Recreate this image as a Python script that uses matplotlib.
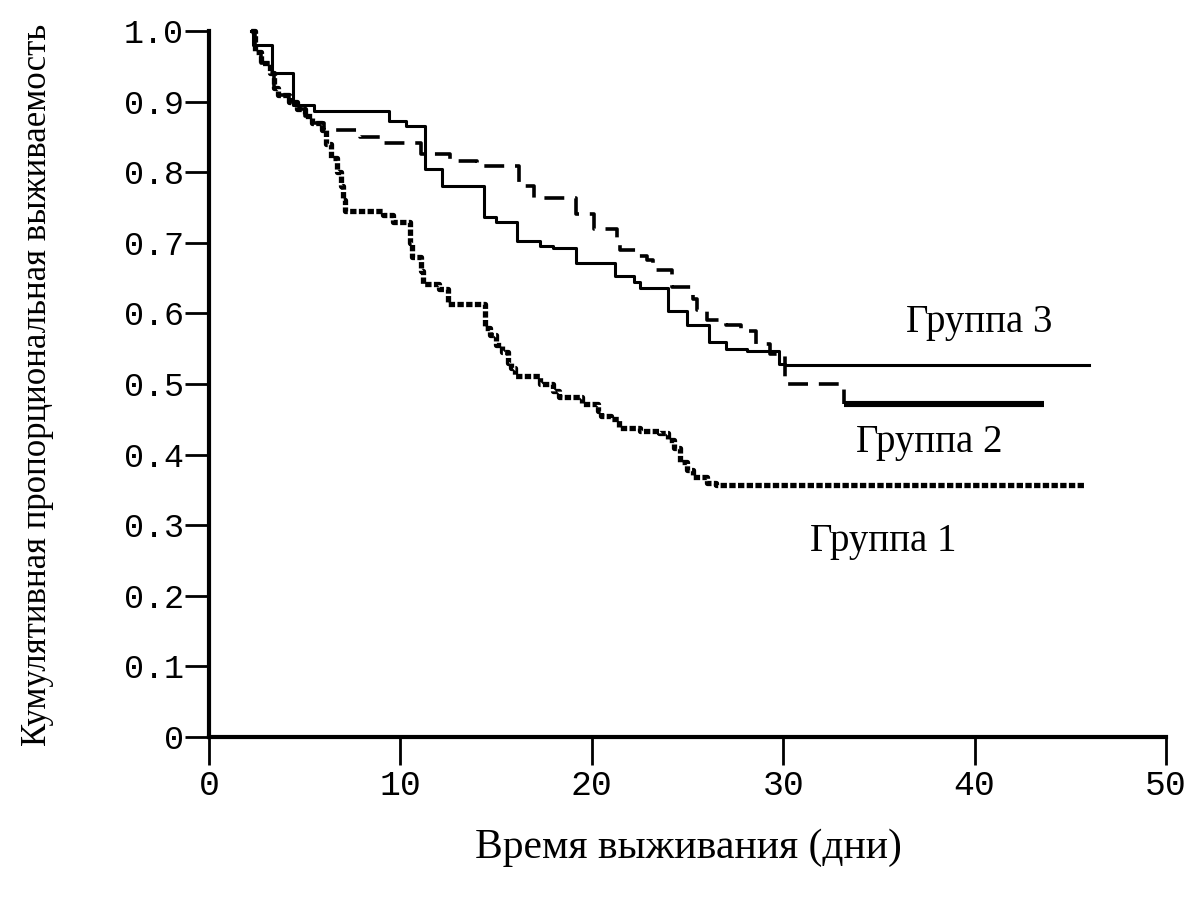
import numpy as np
import matplotlib
matplotlib.use("Agg")
import matplotlib.pyplot as plt

# Kaplan-Meier steps: time (days) where survival becomes value
g1_t = [2.2, 2.4, 2.7, 3.2, 3.4, 3.6, 4.2, 4.6, 5.0, 5.4,
        5.9, 6.1, 6.4, 6.7, 6.9, 7.0, 7.1,
        9.1, 9.6, 10.5, 10.6, 11.1, 11.2, 12.0, 12.5,
        14.4, 14.7, 15.0, 15.3, 15.6, 15.8, 16.0,
        17.3, 18.0, 18.3, 19.5, 20.3, 20.5, 21.0, 21.4,
        22.5, 23.5, 24.0, 24.3, 24.6, 25.0, 25.3, 26.0, 26.5]
g1_s = [1.0, 0.97, 0.955, 0.94, 0.92, 0.91, 0.90, 0.89, 0.88, 0.87,
        0.86, 0.84, 0.82, 0.80, 0.78, 0.76, 0.745,
        0.74, 0.73, 0.70, 0.68, 0.66, 0.642, 0.635, 0.614,
        0.58, 0.57, 0.555, 0.545, 0.53, 0.523, 0.512,
        0.50, 0.49, 0.481, 0.472, 0.462, 0.455, 0.45, 0.438,
        0.434, 0.431, 0.42, 0.41, 0.39, 0.378, 0.368, 0.36, 0.357]
g1_end = 45.7

g2_t = [2.2, 2.4, 2.7, 3.2, 3.4, 3.6, 4.2, 4.6, 5.0, 5.4,
        6.0, 7.9, 9.0, 11.1, 12.6, 14.0,
        16.2, 16.5, 17.0, 19.2, 20.1, 21.3, 21.5, 22.3, 22.9, 23.2,
        24.2, 25.3, 25.5, 26.0, 27.0, 27.8, 28.6, 29.3, 30.1, 33.2]
g2_s = [1.0, 0.97, 0.955, 0.94, 0.92, 0.91, 0.90, 0.89, 0.88, 0.87,
        0.86, 0.85, 0.842, 0.826, 0.816, 0.809,
        0.785, 0.78, 0.764, 0.741, 0.72, 0.706, 0.69, 0.682, 0.675, 0.662,
        0.637, 0.62, 0.605, 0.59, 0.583, 0.575, 0.557, 0.543, 0.50, 0.472]
g2_end = 43.6

g3_t = [2.2, 2.3, 3.3, 4.4, 5.5, 9.4, 10.3, 11.3, 12.2, 14.35,
        15.0, 16.1, 17.3, 18.0, 19.2, 21.2, 22.2, 22.5, 24.0, 25.0,
        26.1, 27.0, 28.1, 29.8, 30.1]
g3_s = [1.0, 0.98, 0.94, 0.895, 0.887, 0.873, 0.865, 0.805, 0.78, 0.736,
        0.73, 0.703, 0.696, 0.692, 0.672, 0.653, 0.645, 0.636, 0.604, 0.583,
        0.559, 0.55, 0.547, 0.529, 0.527]
g3_end = 46.0

labels = ["Группа 1", "Группа 2", "Группа 3"]
xticks = [0, 10, 20, 30, 40, 50]
yticks = [0, 0.1, 0.2, 0.3, 0.4, 0.5, 0.6, 0.7, 0.8, 0.9, 1.0]
ytick_labels = ["0", "0.1", "0.2", "0.3", "0.4", "0.5", "0.6", "0.7", "0.8", "0.9", "1.0"]


def km_xy(t, s, t_end):
    return list(t) + [t_end], list(s) + [s[-1]]


fig = plt.figure(figsize=(11.92, 8.97), dpi=100)
ax = fig.add_axes([0.1753, 0.1784, 0.8029, 0.787])

# group 1 - dense dotted
x, y = km_xy(g1_t, g1_s, g1_end)
ax.step(x, y, where="post", color="black", lw=3.8, linestyle=(0, (1.2, 0.45)), clip_on=False)

# group 2 - dashed, then thick solid tail
x, y = km_xy(g2_t[:-1], g2_s[:-1], g2_t[-1])
x.append(g2_t[-1])
y.append(g2_s[-1])
ax.step(x, y, where="post", color="black", lw=2.6, linestyle=(0, (5.5, 3)), clip_on=False)
ax.plot([g2_t[-1], g2_end], [g2_s[-1], g2_s[-1]], color="black", lw=4.4, solid_capstyle="butt")

# group 3 - solid
x, y = km_xy(g3_t, g3_s, g3_end)
ax.step(x, y, where="post", color="black", lw=2.2, clip_on=False)

serif = "Liberation Serif"
ax.text(36.4, 0.573, labels[2], family=serif, fontsize=28, va="baseline")
ax.text(33.8, 0.403, labels[1], family=serif, fontsize=28, va="baseline")
ax.text(31.4, 0.264, labels[0], family=serif, fontsize=28, va="baseline")

ax.set_xlim(0, 50)
ax.set_ylim(0, 1)
ax.set_xticks(xticks)
ax.set_xticklabels([str(v) for v in xticks], family="Liberation Mono", fontsize=25)
ax.set_yticks(yticks)
ax.set_yticklabels(ytick_labels, family="Liberation Mono", fontsize=24)
ax.tick_params(axis="y", direction="out", length=17, width=2, pad=1)
ax.tick_params(axis="x", direction="out", length=20, width=2, pad=3)

for side in ["top", "right"]:
    ax.spines[side].set_visible(False)
for side in ["left", "bottom"]:
    ax.spines[side].set_linewidth(3)

fig.text(38 / 1192, 1 - 385 / 897, "Кумулятивная пропорциональная выживаемость",
         family=serif, fontsize=25, rotation=90, ha="center", va="center")
fig.text(688 / 1192, 1 - 848 / 897, "Время выживания (дни)",
         family=serif, fontsize=30, ha="center", va="center")

fig.savefig("out.png", dpi=100, facecolor="white")
